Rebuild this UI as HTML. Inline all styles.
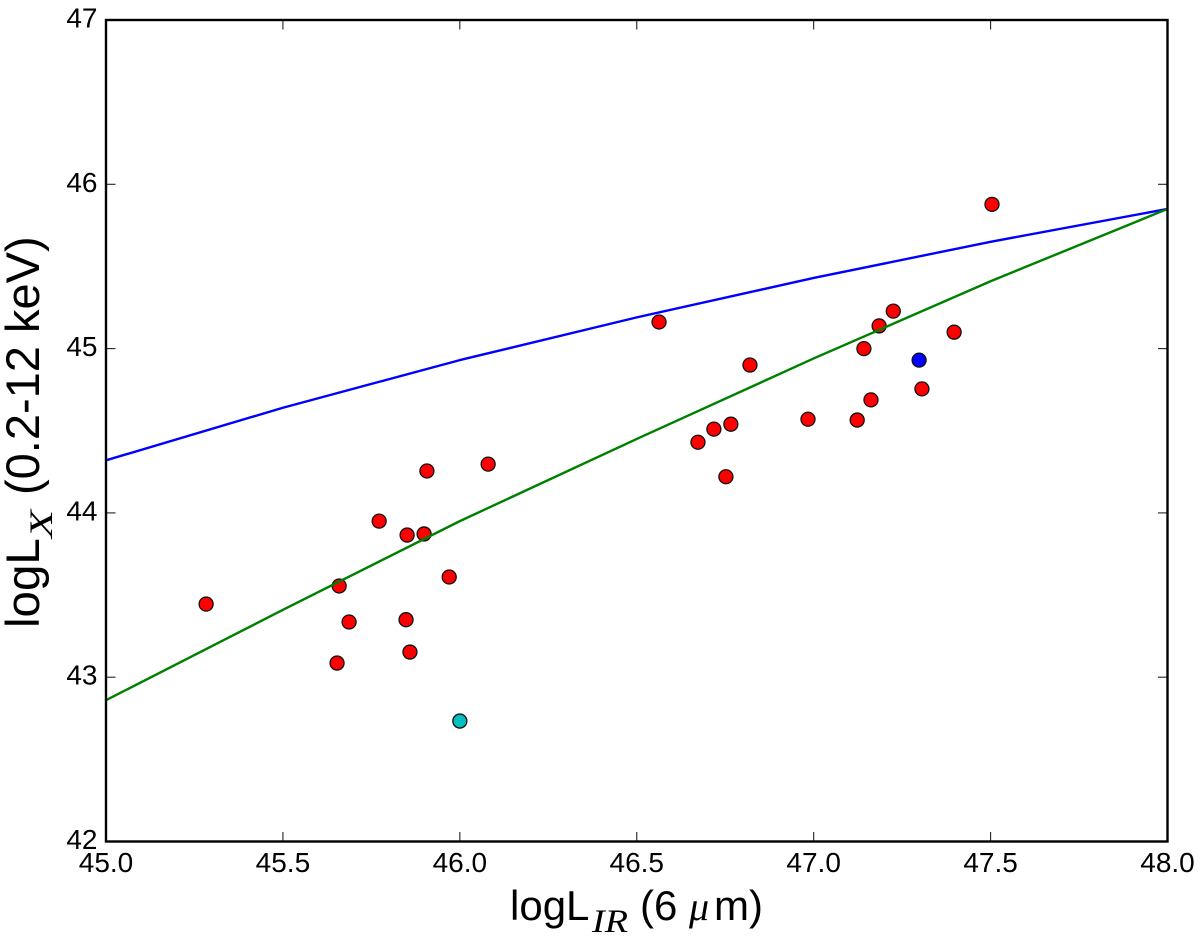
<!DOCTYPE html>
<html>
<head>
<meta charset="utf-8">
<style>
html,body{margin:0;padding:0;background:#fff;width:1200px;height:940px;overflow:hidden}
svg{display:block}
text{font-family:"Liberation Sans",sans-serif;fill:#000}
.math{font-family:"Liberation Serif",serif;font-style:italic}
</style>
</head>
<body>
<svg id="chart" width="1200" height="940" viewBox="0 0 1200 940" xmlns="http://www.w3.org/2000/svg">
<g id="points"></g>
<g id="lines"></g>
<g id="ticks"></g>
<rect x="106" y="20" width="1061.5" height="821.5" fill="none" stroke="#000" stroke-width="2.4"/>
<g id="labels"></g>
<g>
<text x="510" y="920" font-size="42">logL</text>
<text class="math" x="592" y="932" font-size="33" textLength="36" lengthAdjust="spacingAndGlyphs">IR</text>
<text x="640" y="920" font-size="42">(6</text>
<text class="math" x="689" y="920" font-size="40">μ</text>
<text x="714" y="920" font-size="42">m)</text>
</g>
<g>
<text transform="translate(39,628) rotate(-90)" font-size="47.5">logL</text>
<text class="math" transform="translate(52,538) rotate(-90)" font-size="33" textLength="28" lengthAdjust="spacingAndGlyphs">X</text>
<text transform="translate(39,495) rotate(-90)" font-size="47">(0.2-12 keV)</text>
</g>
</svg>
<script>
const xTicks = [45.0, 45.5, 46.0, 46.5, 47.0, 47.5, 48.0];
const yTicks = [42, 43, 44, 45, 46, 47];

const redX = [45.283, 45.659, 45.653, 45.687, 45.772, 45.851, 45.899, 45.907, 45.848, 45.859, 45.97, 46.08, 46.563, 46.673, 46.718, 46.766, 46.752, 46.82, 46.984, 47.123, 47.162, 47.142, 47.185, 47.225, 47.306, 47.397, 47.504];
const redY = [43.445, 43.555, 43.086, 43.336, 43.95, 43.865, 43.872, 44.255, 43.35, 43.153, 43.61, 44.297, 45.162, 44.43, 44.51, 44.54, 44.22, 44.9, 44.57, 44.565, 44.688, 45.0, 45.138, 45.228, 44.755, 45.1, 45.878];
const tealX = [46.0];
const tealY = [42.733];
const blueX = [47.298];
const blueY = [44.93];

const lineX = [45.0, 45.5, 46.0, 46.5, 47.0, 47.5, 48.0];
const blueLineY = [44.32, 44.64, 44.93, 45.19, 45.43, 45.65, 45.85];
const greenLineY = [42.86, 43.41, 43.95, 44.45, 44.94, 45.41, 45.85];

const NS = 'http://www.w3.org/2000/svg';
const sx = v => 106 + (v - 45) * (1061.5 / 3);
const sy = v => 841.5 - (v - 42) * (821.5 / 5);

function make(tag, attrs, parent) {
  const el = document.createElementNS(NS, tag);
  for (const k in attrs) el.setAttribute(k, attrs[k]);
  parent.appendChild(el);
  return el;
}

const pointsG = document.getElementById('points');
function drawPoints(xs, ys, color, name) {
  xs.forEach((x, i) => {
    const c = make('circle', {cx: sx(x), cy: sy(ys[i]), r: 7, fill: color, stroke: '#111', 'stroke-width': 1.3}, pointsG);
    
    
  });
}
drawPoints(redX, redY, '#ff0000', 'red-point');
drawPoints(tealX, tealY, '#00bfbf', 'teal-point');
drawPoints(blueX, blueY, '#0000ff', 'blue-point');

const linesG = document.getElementById('lines');
function drawLine(ys, color, name) {
  const p = make('polyline', {points: lineX.map((x, i) => sx(x) + ',' + sy(ys[i])).join(' '), fill: 'none', stroke: color, 'stroke-width': 2.4, 'stroke-linejoin': 'round'}, linesG);
  
  
}
drawLine(blueLineY, '#0000ff', 'blue-model-line');
drawLine(greenLineY, '#008000', 'green-model-line');

const ticksG = document.getElementById('ticks');
const labelsG = document.getElementById('labels');
xTicks.forEach(v => {
  const x = sx(v);
  const t1 = make('line', {x1: x, x2: x, y1: 841.5, y2: 832, stroke: '#222', 'stroke-width': 1.1}, ticksG);
  
  
  const t2 = make('line', {x1: x, x2: x, y1: 20, y2: 29.5, stroke: '#222', 'stroke-width': 1.1}, ticksG);
  
  
  const l = make('text', {x: x, y: 872, 'font-size': 28, 'text-anchor': 'middle'}, labelsG);
  
  
  l.textContent = v.toFixed(1);
});
yTicks.forEach(v => {
  const y = sy(v);
  const t1 = make('line', {x1: 106, x2: 115.5, y1: y, y2: y, stroke: '#222', 'stroke-width': 1.1}, ticksG);
  
  
  const t2 = make('line', {x1: 1167.5, x2: 1158, y1: y, y2: y, stroke: '#222', 'stroke-width': 1.1}, ticksG);
  
  
  const l = make('text', {x: 97.5, y: y + 7.5, 'font-size': 28, 'text-anchor': 'end'}, labelsG);
  
  
  l.textContent = String(v);
});
</script>
</body>
</html>
